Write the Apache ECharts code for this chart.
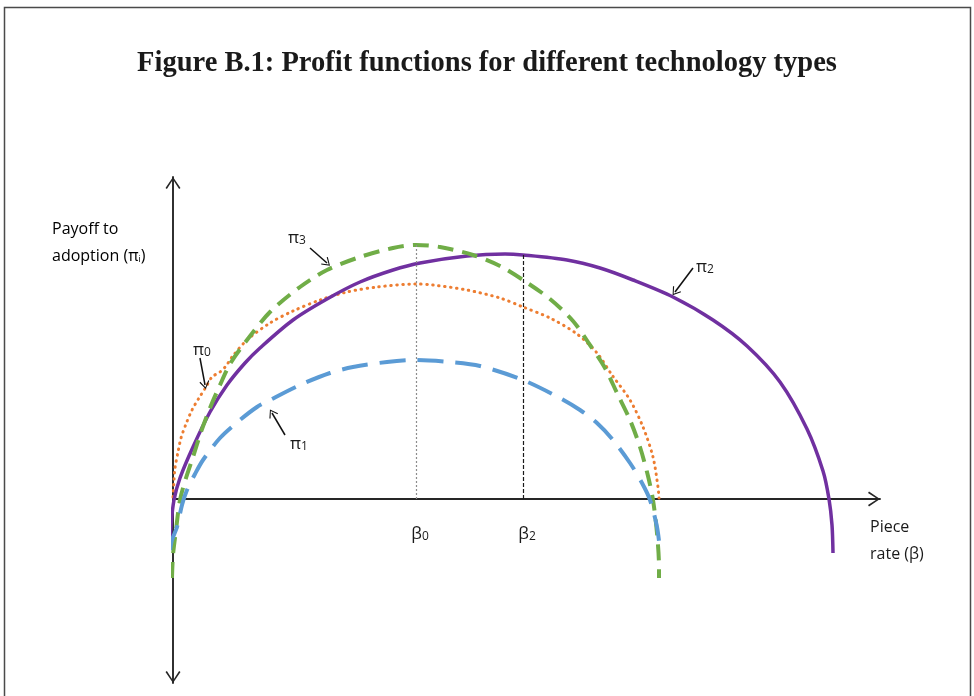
<!DOCTYPE html>
<html>
<head>
<meta charset="utf-8">
<script src="https://cdn.jsdelivr.net/npm/echarts@6/dist/echarts.min.js"></script>
<style>
  html, body { margin: 0; padding: 0; background: #ffffff; }
  #chart { width: 974px; height: 696px; }
</style>
</head>
<body>
<div id="chart"></div>
<script>
// Profit curves, [piece rate, payoff] pairs (piece rate 0 at the vertical axis)
const pi0Points = [
  [0, 2], [1, 19], [2, 31], [5, 47], [8, 61], [13, 75], [19, 89], [26, 101], [33, 112],
  [39, 122], [47, 127], [53, 133], [59, 142], [74, 159], [97, 176], [120, 188], [147, 199],
  [174, 207], [204, 212], [243, 215], [260, 214], [294, 209], [327, 201], [350, 192],
  [377, 181], [404, 165], [424, 146], [439, 124], [457, 99], [470, 72], [480, 42],
  [485, 12], [486, 1]
];
const pi1Points = [
  [-3, -51], [-1, -41], [4, -28], [9, -6], [14, 9], [22, 25], [30, 39], [47, 61], [67, 79],
  [84, 92], [97, 99], [127, 114], [157, 126], [180, 132], [214, 137], [243, 139], [277, 137],
  [307, 133], [350, 119], [387, 101], [407, 89], [424, 76], [440, 59], [457, 36], [469, 16],
  [477, -1], [484, -28], [487, -51]
];
const pi2Points = [
  [-3, -47], [-2, -26], [1, -1], [7, 21], [20, 52], [37, 87], [54, 114], [72, 136], [87, 151],
  [120, 179], [154, 200], [187, 217], [220, 229], [247, 236], [294, 243], [332, 245],
  [350, 244], [394, 239], [427, 231], [460, 219], [500, 202], [540, 179], [574, 153],
  [607, 117], [634, 70], [650, 28], [656, 0], [659, -26], [660, -54]
];
const pi3Points = [
  [-1, -79], [0, -56], [3, -31], [7, -1], [13, 21], [20, 42], [28, 67], [37, 91], [47, 114],
  [57, 135], [74, 159], [97, 187], [127, 212], [154, 229], [187, 242], [220, 251], [243, 254],
  [267, 252], [300, 244], [327, 233], [350, 219], [377, 200], [400, 178], [417, 154],
  [432, 131], [444, 106], [457, 79], [467, 52], [475, 23], [480, -1], [484, -34], [486, -68],
  [486, -79]
];

// Optimal piece rates marked on the horizontal axis
const betaTicks = [243, 350];
const betaTickNames = ['0', '2'];
// Heights of the guide lines at the optimal piece rates (peaks of π3 and π2)
const beta0Peak = 254;
const beta2Peak = 244;

// Curve name tags [x, y, subscript] and their pointer arrows [from, to]
const curveTags = [[124, 262, '3'], [29, 150, '0'], [126, 56, '1'], [532, 233, '2']];
const tagArrows = [
  [[137, 251], [154, 236]],
  [[27, 141], [32, 114]],
  [[112, 64], [99, 86]],
  [[520, 231], [502, 207]]
];

const chevron = 'path://M7.5,0 L15,11 L13.6,12 L7.5,2.6 L1.4,12 L0,11 Z';
const textFont = '"Open Sans", "Noto Sans", sans-serif';
const inkColor = '#1a1a1a';
const tickLabelDrop = -34;

const chart = echarts.init(document.getElementById('chart'), null, { renderer: 'canvas' });

const subRich = {
  g: { fontFamily: textFont, fontSize: 17, color: inkColor, lineHeight: 20, verticalAlign: 'bottom' },
  s: { fontFamily: textFont, fontSize: 12, color: inkColor, lineHeight: 16, verticalAlign: 'bottom' }
};

const curveSeries = (name, pts, color, width, dash, cap) => ({
  name: name,
  type: 'line',
  data: pts,
  smooth: 0.3,
  showSymbol: false,
  clip: false,
  silent: true,
  lineStyle: { color: color, width: width, type: dash, cap: cap || 'butt' }
});

const textSeries = (name, data, glyph, labelShift, extra) => Object.assign({
  name: name,
  type: 'scatter',
  data: data,
  symbolSize: 0,
  silent: true,
  clip: false,
  itemStyle: { opacity: 1 },
  label: {
    show: true,
    position: 'inside',
    offset: labelShift,
    color: inkColor,
    formatter: (p) => '{g|' + glyph + '}{s|' + p.value[2] + '}',
    rich: subRich
  }
}, extra || {});

chart.setOption({
  animation: false,
  backgroundColor: '#ffffff',
  title: {
    text: 'Figure B.1: Profit functions for different technology types',
    left: 'center',
    top: 44,
    textStyle: {
      fontFamily: '"Liberation Serif", "DejaVu Serif", serif',
      fontWeight: 'bold',
      fontSize: 28.5,
      color: '#1a1a1a'
    }
  },
  grid: { left: 173, right: 94, top: 177, bottom: 13, outerBoundsMode: 'none' },
  xAxis: {
    type: 'value',
    min: 0,
    max: 707,
    splitLine: { show: false },
    axisTick: { show: false },
    axisLabel: { show: false },
    axisLine: {
      onZero: true,
      lineStyle: { color: '#262626', width: 1.9 },
      symbol: ['none', chevron],
      symbolSize: [15, 12],
      symbolOffset: [0, -6]
    }
  },
  yAxis: {
    type: 'value',
    min: -184,
    max: 322,
    splitLine: { show: false },
    axisTick: { show: false },
    axisLabel: { show: false },
    axisLine: {
      onZero: true,
      lineStyle: { color: '#262626', width: 1.9 },
      symbol: [chevron, chevron],
      symbolSize: [15, 12],
      symbolOffset: [6, -6]
    }
  },
  series: [
    curveSeries('π0', pi0Points, '#ed7d31', 3, [0.5, 5.5], 'round'),
    curveSeries('π2', pi2Points, '#7030a0', 3.5, 'solid'),
    curveSeries('π3', pi3Points, '#70ad47', 4, [16, 9]),
    curveSeries('π1', pi1Points, '#5b9bd5', 4, [26, 12]),
    textSeries('betaTicks', betaTicks.map((b, i) => [b, tickLabelDrop, betaTickNames[i]]), 'β', [4, 0]),
    textSeries('tags', curveTags, 'π', [0, 0], {
      markLine: {
        silent: true,
        symbol: 'none',
        label: { show: false },
        data: [
          [
            { coord: [betaTicks[0], 0], lineStyle: { color: '#8c8c8c', width: 1.2, type: [2, 2] } },
            { coord: [betaTicks[0], beta0Peak] }
          ],
          [
            { coord: [betaTicks[1], 0], lineStyle: { color: '#1a1a1a', width: 1.2, type: [4, 2] } },
            { coord: [betaTicks[1], beta2Peak] }
          ]
        ].concat(tagArrows.map((a) => [
          { coord: a[0], symbol: 'none', lineStyle: { color: '#111111', width: 1.5, type: 'solid' } },
          { coord: a[1], symbol: chevron, symbolSize: [10, 8] }
        ]))
      }
    })
  ],
  graphic: [
    {
      type: 'rect',
      silent: true,
      shape: { x: 4.5, y: 7.5, width: 966, height: 700 },
      style: { fill: 'none', stroke: '#4a4a4a', lineWidth: 1.5 }
    },
    {
      type: 'text',
      left: 52,
      top: 221,
      silent: true,
      style: {
        text: '{t|Payoff to}\n{t|adoption (π}{s|i}{t|)}',
        rich: {
          t: { fontFamily: textFont, fontSize: 16, color: inkColor, lineHeight: 27, verticalAlign: 'bottom' },
          s: { fontFamily: textFont, fontSize: 9, color: inkColor, lineHeight: 23, verticalAlign: 'bottom' }
        }
      }
    },
    {
      type: 'text',
      left: 870,
      top: 514,
      silent: true,
      style: {
        text: 'Piece\nrate (β)',
        fontFamily: textFont,
        fontSize: 16,
        lineHeight: 27,
        fill: inkColor
      }
    }
  ]
});
</script>
</body>
</html>
